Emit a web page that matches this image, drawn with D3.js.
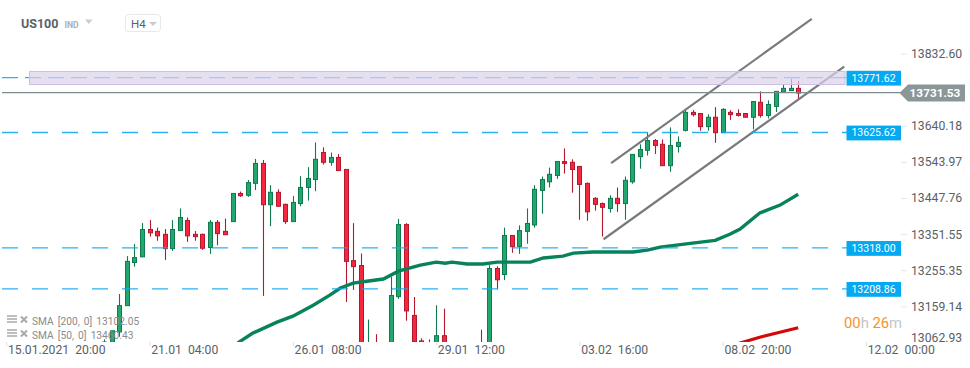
<!DOCTYPE html>
<html>
<head>
<meta charset="utf-8">
<script src="https://cdn.jsdelivr.net/npm/d3@7"></script>
<style>
  html, body { margin: 0; padding: 0; background: #fff; }
  svg { display: block; }
  text { font-family: Roboto, sans-serif; white-space: pre; }
</style>
</head>
<body>
<div id="container"></div>
<script>
// candles, index 0 is the first one that shows up above the bottom edge
let opens = [13040,13040,13095,13165,13280,13295,13368,13363,13355,13317,13365,13392,13355,13355,13320,13387,13363,13389,13464,13459,13491,13544,13434,13467,13435,13389,13437,13480,13501,13573,13547,13560,13528,13285,13272,13040,13062,13045,13040,13189,13381,13139,13071,13060,13040,13085,13045,13030,13035,13050,13060,13040,13264,13248,13352,13323,13363,13380,13472,13495,13512,13549,13547,13536,13491,13451,13437,13424,13451,13437,13495,13562,13579,13605,13595,13538,13589,13632,13680,13677,13642,13667,13626,13680,13677,13677,13667,13707,13672,13696,13734,13738,13744];
let highs = [13075,13098,13196,13297,13329,13385,13393,13373,13369,13393,13424,13400,13364,13357,13393,13393,13397,13464,13469,13500,13556,13553,13486,13475,13437,13457,13510,13534,13600,13587,13573,13569,13528,13385,13304,13128,13089,13050,13242,13396,13385,13188,13078,13075,13166,13157,13055,13050,13055,13060,13101,13273,13270,13373,13352,13379,13424,13486,13509,13533,13549,13584,13555,13536,13493,13454,13440,13459,13480,13509,13568,13595,13625,13609,13608,13640,13616,13686,13686,13678,13675,13694,13691,13686,13688,13677,13709,13736,13712,13736,13753,13769,13764];
let lows = [13030,13030,13082,13165,13269,13295,13349,13338,13287,13311,13365,13335,13338,13314,13303,13326,13354,13389,13455,13455,13473,13191,13377,13428,13383,13389,13430,13445,13470,13541,13538,13525,13175,13207,13030,13030,13030,13020,13030,13183,13125,13060,13030,13030,13030,13030,13025,13020,13025,13030,13030,13030,13208,13233,13306,13303,13330,13373,13410,13480,13503,13517,13466,13394,13391,13418,13349,13413,13415,13394,13490,13530,13565,13569,13538,13522,13573,13629,13669,13631,13631,13599,13626,13660,13669,13667,13635,13666,13664,13681,13734,13738,13715];
let closes = [13068,13098,13165,13283,13293,13368,13359,13351,13317,13368,13400,13351,13349,13318,13387,13357,13354,13464,13458,13493,13544,13434,13467,13430,13389,13440,13480,13504,13555,13547,13560,13525,13283,13269,13040,13060,13040,13030,13192,13381,13151,13069,13040,13040,13085,13040,13030,13040,13045,13035,13040,13264,13234,13352,13322,13365,13384,13475,13501,13515,13549,13544,13528,13488,13415,13435,13427,13451,13437,13499,13568,13581,13605,13592,13538,13592,13600,13680,13674,13642,13667,13626,13688,13674,13672,13667,13709,13672,13701,13736,13744,13744,13731.53];

let sma50Idx = [17.7,19.7,22.9,25,27.7,29.9,31.3,33,34.8,37,39,41.9,44,45.2,46.1,48.1,50.2,52.1,56.5,58.2,60.8,62.2,64.8,70.1,72,73.7,77.7,81,83,84.3,86.9,89.6,92];
let sma50Val = [13066,13092,13121,13137,13166,13193,13212,13225,13230,13236,13257,13273,13281,13278,13281,13276,13276,13281,13281,13292,13297,13305,13308,13308,13313,13321,13331,13339,13356,13369,13412,13433,13462];
let sma200Idx = [83.4,86.9,92];
let sma200Val = [13060,13081,13106];

// channel drawn on the chart
let channelIdx = [[67.2,93.8],[66.2,98.1]];
let channelVal = [[13545,13929],[13342,13802]];

let levels = [13771.62,13625.62,13318.00,13208.86];
let currentPrice = 13731.53;

let yTicks = [13832.60,13640.18,13543.97,13447.76,13351.55,13255.35,13159.14,13062.93];
let xTickIdx = [-13,6,25,44,63,82,101];
let xTickLabels = ["15.01.2021  20:00","21.01  04:00","26.01  08:00","29.01  12:00","03.02  16:00","08.02  20:00","12.02  00:00"];

let w = 970;
let h = 368;
let bottomEdge = 342;

let viz = d3.select("#container")
  .append("svg")
    .attr("width", w)
    .attr("height", h)
;

let xScale = d3.scaleLinear().domain([0, 92]).range([104.3, 798.2]);
let yScale = d3.scaleLinear().domain([13771.62, 13208.86]).range([78, 289.2]);

viz.append("clipPath").attr("id", "plot")
  .append("rect").attr("x", 0).attr("y", 0).attr("width", w).attr("height", bottomEdge);

let plot = viz.append("g").attr("clip-path", "url(#plot)");

// candles
let candles = plot.selectAll(".candle").data(closes).enter()
  .append("g")
    .classed("candle", true)
    .attr("transform", function(d, i){ return "translate(" + Math.round(xScale(i)) + ",0)"; })
;
candles.append("line")
  .attr("x1", 0.5).attr("x2", 0.5)
  .attr("y1", function(d, i){ return yScale(highs[i]); })
  .attr("y2", function(d, i){ return yScale(lows[i]); })
  .attr("stroke", function(d, i){ return d >= opens[i] ? "#0f7a4e" : "#b3182f"; })
  .attr("stroke-width", 1.1)
;
candles.append("rect")
  .attr("x", -1.5)
  .attr("width", 4)
  .attr("y", function(d, i){ return yScale(Math.max(d, opens[i])); })
  .attr("height", function(d, i){ return Math.max(1.5, Math.abs(yScale(d) - yScale(opens[i]))); })
  .attr("fill", function(d, i){ return d >= opens[i] ? "#22a86f" : "#f6263f"; })
  .attr("stroke", function(d, i){ return d >= opens[i] ? "#0f7a4e" : "#b3182f"; })
  .attr("stroke-width", 1)
;

// moving averages
let lineGen = d3.line().x(d => xScale(d[0])).y(d => yScale(d[1]));
plot.append("path")
  .attr("d", lineGen(sma50Idx.map((d, i) => [d, sma50Val[i]])))
  .attr("fill", "none").attr("stroke", "#07825a").attr("stroke-width", 3.4);
plot.append("path")
  .attr("d", lineGen(sma200Idx.map((d, i) => [d, sma200Val[i]])))
  .attr("fill", "none").attr("stroke", "#d40808").attr("stroke-width", 3.2);

// channel
channelIdx.forEach(function(c, i){
  viz.append("line")
    .attr("x1", xScale(c[0])).attr("x2", xScale(c[1]))
    .attr("y1", yScale(channelVal[i][0])).attr("y2", yScale(channelVal[i][1]))
    .attr("stroke", "#777b7d").attr("stroke-width", 2.2);
});

// dashed levels, the top one has a shorter gap
viz.selectAll(".level").data(levels).enter()
  .append("line")
    .classed("level", true)
    .attr("x1", 2).attr("x2", 848)
    .attr("y1", d => yScale(d) - 0.3).attr("y2", d => yScale(d) - 0.3)
    .attr("stroke", "#12a8ee")
    .attr("stroke-width", 1.3)
    .attr("stroke-opacity", 0.9)
    .attr("stroke-dasharray", (d, i) => i == 0 ? "16,7" : "16,14")
;

// current price line
viz.append("line")
  .attr("x1", 2).attr("x2", 905)
  .attr("y1", yScale(currentPrice) - 0.5).attr("y2", yScale(currentPrice) - 0.5)
  .attr("stroke", "#7f8c8f").attr("stroke-width", 1.2);

// purple zone sits on top and washes out what runs under it
viz.append("rect")
  .attr("x", 29.5).attr("width", 815.5)
  .attr("y", 71.5).attr("height", 13)
  .attr("fill", "rgb(219,209,234)").attr("fill-opacity", 0.7)
  .attr("stroke", "#cbbfe3").attr("stroke-width", 1);

// level tags
viz.selectAll(".tag").data(levels).enter()
  .append("rect")
    .classed("tag", true)
    .attr("x", 846.5).attr("width", 54.5)
    .attr("y", d => yScale(d) - 7.2).attr("height", 14.8)
    .attr("fill", "#05a9f2")
;
viz.selectAll(".tagText").data(levels).enter()
  .append("text")
    .classed("tagText", true)
    .attr("x", 873.5)
    .attr("y", d => yScale(d) + 3.6)
    .attr("text-anchor", "middle")
    .attr("font-size", 10.5)
    .attr("fill", "#fff")
    .text(d => d.toFixed(2))
;

// current price tag
let py = yScale(currentPrice);
viz.append("path")
  .attr("d", "M899.5," + py + "L908," + (py - 8.5) + "L965," + (py - 8.5) + "L965," + (py + 8.5) + "L908," + (py + 8.5) + "Z")
  .attr("fill", "#8b9699");
viz.append("text")
  .attr("x", 935).attr("y", py + 4.3)
  .attr("text-anchor", "middle")
  .attr("font-size", 11.8).attr("font-weight", 700)
  .attr("fill", "#fff")
  .text(currentPrice.toFixed(2));

// y axis
let yAxis = d3.axisRight(yScale).tickValues(yTicks).tickFormat(d3.format(".2f")).tickSize(6).tickPadding(4);
let yAxisGroup = viz.append("g").attr("transform", "translate(901,-1.5)").call(yAxis);
yAxisGroup.select(".domain").remove();
yAxisGroup.selectAll("line").attr("stroke", "#e4e6e7");
yAxisGroup.selectAll("text")
  .attr("font-size", 12.2)
  .attr("fill", "#5a6166")
  .attr("dy", (d, i) => i == yTicks.length - 1 ? "-0.1em" : "0.32em")
  .attr("style", "font-family:Roboto,sans-serif");
yAxisGroup.selectAll(".tick").filter(d => d == 13062.93).select("line").remove();

// x axis
let xAxis = d3.axisBottom(xScale).tickValues(xTickIdx).tickFormat((d, i) => xTickLabels[i]).tickSize(4).tickPadding(1);
let xAxisGroup = viz.append("g").attr("transform", "translate(0,342)").call(xAxis);
xAxisGroup.select(".domain").remove();
xAxisGroup.selectAll("line").attr("stroke", "#dfe2e3");
xAxisGroup.selectAll("text")
  .attr("text-anchor", "start")
  .attr("x", 1.2)
  .attr("y", 3.8)
  .attr("font-size", 12.2)
  .attr("fill", "#5a6166");

// indicator legend
let legend = [["SMA [200, 0] 13102.05", 322], ["SMA [50, 0] 13460.43", 336]];
legend.forEach(function(l){
  let g = viz.append("g").attr("transform", "translate(0," + l[1] + ")");
  g.append("path").attr("d", "M7,-6H17M7,-3H17M7,0H17").attr("stroke", "#a9a9a9").attr("stroke-width", 1.7);
  g.append("path").attr("d", "M21,-5.5L27,0.5M27,-5.5L21,0.5").attr("stroke", "#a9a9a9").attr("stroke-width", 2);
  g.append("text").attr("x", 32).attr("y", 3.3).attr("font-size", 10.2).attr("word-spacing", 1.6).attr("fill", "#8b8b8b").text(l[0]);
});

// countdown
let timer = viz.append("text").attr("x", 844).attr("y", 328).attr("font-size", 14.8);
timer.append("tspan").attr("fill", "#f7941d").text("00");
timer.append("tspan").attr("fill", "#c3c6c8").text("h ");
timer.append("tspan").attr("fill", "#f7941d").text("26");
timer.append("tspan").attr("fill", "#c3c6c8").text("m");

// header
viz.append("text").attr("x", 21).attr("y", 27.5).attr("font-size", 12.5).attr("font-weight", 700).attr("fill", "#55636b").text("US100");
viz.append("text").attr("x", 64.5).attr("y", 27.5).attr("font-size", 8.6).attr("font-weight", 700).attr("fill", "#a6b1b8").text("IND");
viz.append("path").attr("d", "M85,19.5H92.5L88.75,24Z").attr("fill", "#c8cdd0");
viz.append("rect").attr("x", 125.5).attr("y", 14.5).attr("width", 35).attr("height", 17).attr("rx", 3)
  .attr("fill", "#fff").attr("stroke", "#e6e8e9");
viz.append("text").attr("x", 131).attr("y", 27.5).attr("font-size", 11.5).attr("fill", "#5a6166").text("H4");
viz.append("path").attr("d", "M149,22H157L153,26Z").attr("fill", "#c8cdd0");
</script>
</body>
</html>
